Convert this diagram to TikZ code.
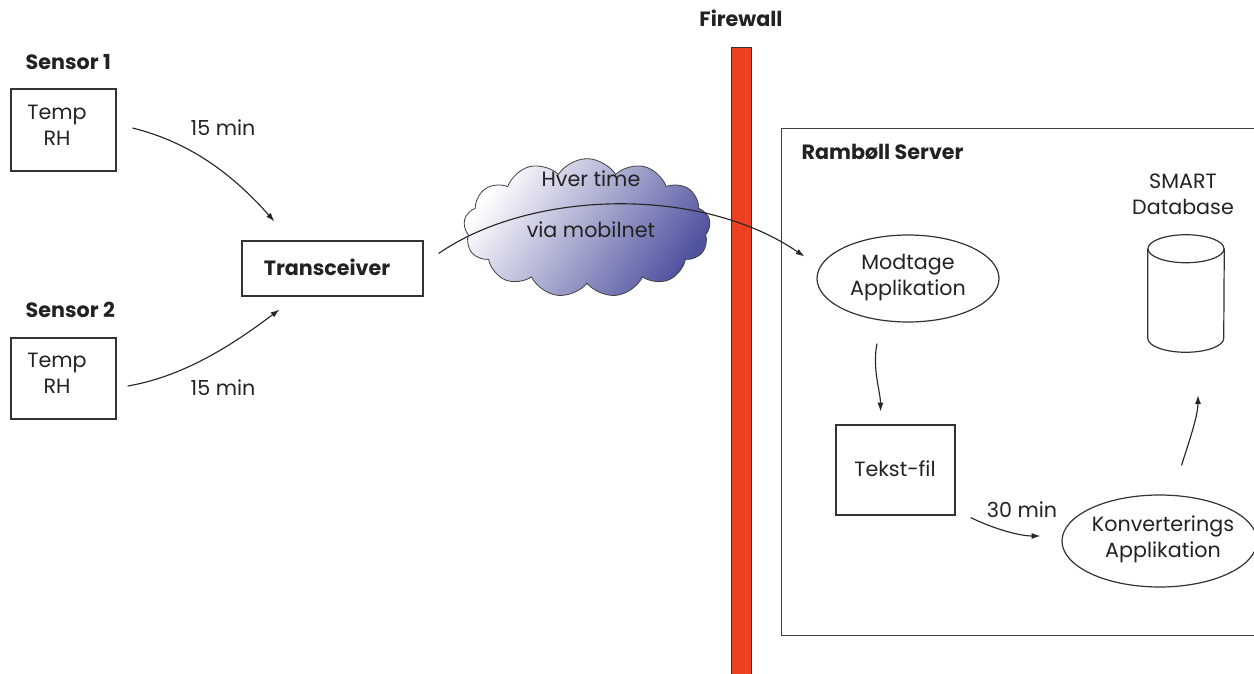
\documentclass[tikz,border=0pt]{standalone}
\usepackage{fontspec}
\setmainfont{Poppins}
\usetikzlibrary{shapes.symbols,shapes.geometric,arrows.meta,calc}
\definecolor{fwred}{HTML}{EE4022}
\definecolor{cloudblue}{HTML}{4F529F}
\definecolor{cloudmid}{HTML}{D4D4EA}
\definecolor{txt}{HTML}{222222}
\begin{document}
\begin{tikzpicture}[x=0.75pt,y=-0.75pt,
  every node/.style={text=txt, font=\fontsize{15.5}{18}\selectfont},
  lbl/.style={font=\fontsize{15.5}{18}\selectfont\bfseries, anchor=west},
  box/.style={draw=black!80, line width=0.9pt, inner sep=0pt},
  ell/.style={draw=black!80, line width=0.9pt, ellipse, inner sep=0pt},
  arr/.style={draw=black!85, line width=0.85pt, -{Latex[length=6.5pt,width=4.5pt]}},
  txt2/.style={align=center, font=\fontsize{15.5}{19.5}\selectfont}
]
\useasboundingbox (0,0) rectangle (1254,674);
\clip (0,0) rectangle (1254,674);

% Firewall
\node[font=\fontsize{15.5}{18}\selectfont\bfseries] (fwl) at (741,18) {Firewall};
\node[draw=black!80, fill=fwred, line width=0.7pt, minimum width=15pt, minimum height=470.25pt, inner sep=0pt, anchor=north] (fw) at (741,47) {};

% Sensors
\node[lbl] (s1l) at (21,62) {Sensor 1};
\node[box, minimum width=78.75pt, minimum height=61.5pt] (s1) at (63.5,130) {};
\node[txt2] (s1t) at (57,125) {Temp\\RH};
\node[lbl] (s2l) at (21,310) {Sensor 2};
\node[box, minimum width=78.75pt, minimum height=60.75pt] (s2) at (63.5,378.5) {};
\node[txt2] (s2t) at (57,373) {Temp\\RH};

% Transceiver
\node[box, minimum width=135.75pt, minimum height=41.25pt] (tr) at (332.5,268.5) {};
\node[font=\fontsize{15.5}{18}\selectfont\bfseries] (trt) at (327,267) {Transceiver};

\draw[arr] ($(s1.east)+(16,-2)$) .. controls +(60,15) and +(-40,-45) .. ($(tr.north west)+(33,-19)$);
\node (m1) at (223,128) {15 min};
\draw[arr] ($(s2.east)+(11,7.5)$) .. controls +(60,-10) and +(-40,30) .. ($(tr.south west)+(38,13)$);
\node (m2) at (223,388) {15 min};

% Cloud
\node[cloud, cloud puffs=13, cloud puff arc=115, aspect=1.8, draw=black!75, line width=0.6pt,
      shading=axis, top color=white, middle color=cloudmid, bottom color=cloudblue, shading angle=55,
      minimum width=185pt, minimum height=104pt, inner sep=0pt] (cl) at (587,228) {};
\node (c1) at (591,179) {Hver time};
\node (c2) at (591,230) {via mobilnet};

% Server box
\node[draw=black!75, line width=0.9pt, minimum width=375pt, minimum height=380.25pt, inner sep=0pt, anchor=north west] (srv) at (781,128) {};
\node[lbl] (srvl) at (797,152) {Rambøll Server};

% Modtage
\node[ell, minimum width=136.5pt, minimum height=65.25pt] (mod) at (908,278.5) {};
\node[txt2] (modt) at (908,277.5) {Modtage\\Applikation};

\draw[arr] ($(tr.east)+(15,-15)$) .. controls (530,190) and (700,185) .. ($(mod.west)+(-12,-22)$);

% Tekst-fil
\node[box, minimum width=89.25pt, minimum height=67.5pt] (tf) at (895.5,470) {};
\node (tft) at (895,469) {Tekst-fil};
\draw[arr] ($(mod.south)+(-31,21)$) .. controls +(-5,25) and +(0,-20) .. ($(tf.north)+(-15,-13)$);

% Konverterings
\node[ell, minimum width=146.25pt, minimum height=69pt] (konv) at (1159.5,541) {};
\node[txt2] (konvt) at (1163,539.5) {Konverterings\\Applikation};
\node (m3) at (1022,510) {30 min};
\draw[arr] ($(tf.south east)+(15,2)$) .. controls +(25,12) and +(-20,0) .. ($(konv.west)+(-21,-5)$);

% Database cylinder
\node[minimum width=57pt, minimum height=87.75pt, inner sep=0pt] (db) at (1186,293.5) {};
\draw[black!80, line width=0.9pt]
  ($(db.north west)+(0,14)$) -- ($(db.south west)+(0,-14)$)
  arc[start angle=180, end angle=360, x radius=38, y radius=-14]
  -- ($(db.north east)+(0,14)$);
\draw[black!80, line width=0.9pt] ($(db.north)+(0,14)$) ellipse[x radius=38, y radius=14];
\node[txt2] (dbt) at (1183,194.5) {SMART\\Database};
\draw[arr] ($(konv.north)+(22,-29)$) .. controls +(8,-25) and +(0,20) .. ($(db.south)+(12,43)$);
\end{tikzpicture}
\end{document}
